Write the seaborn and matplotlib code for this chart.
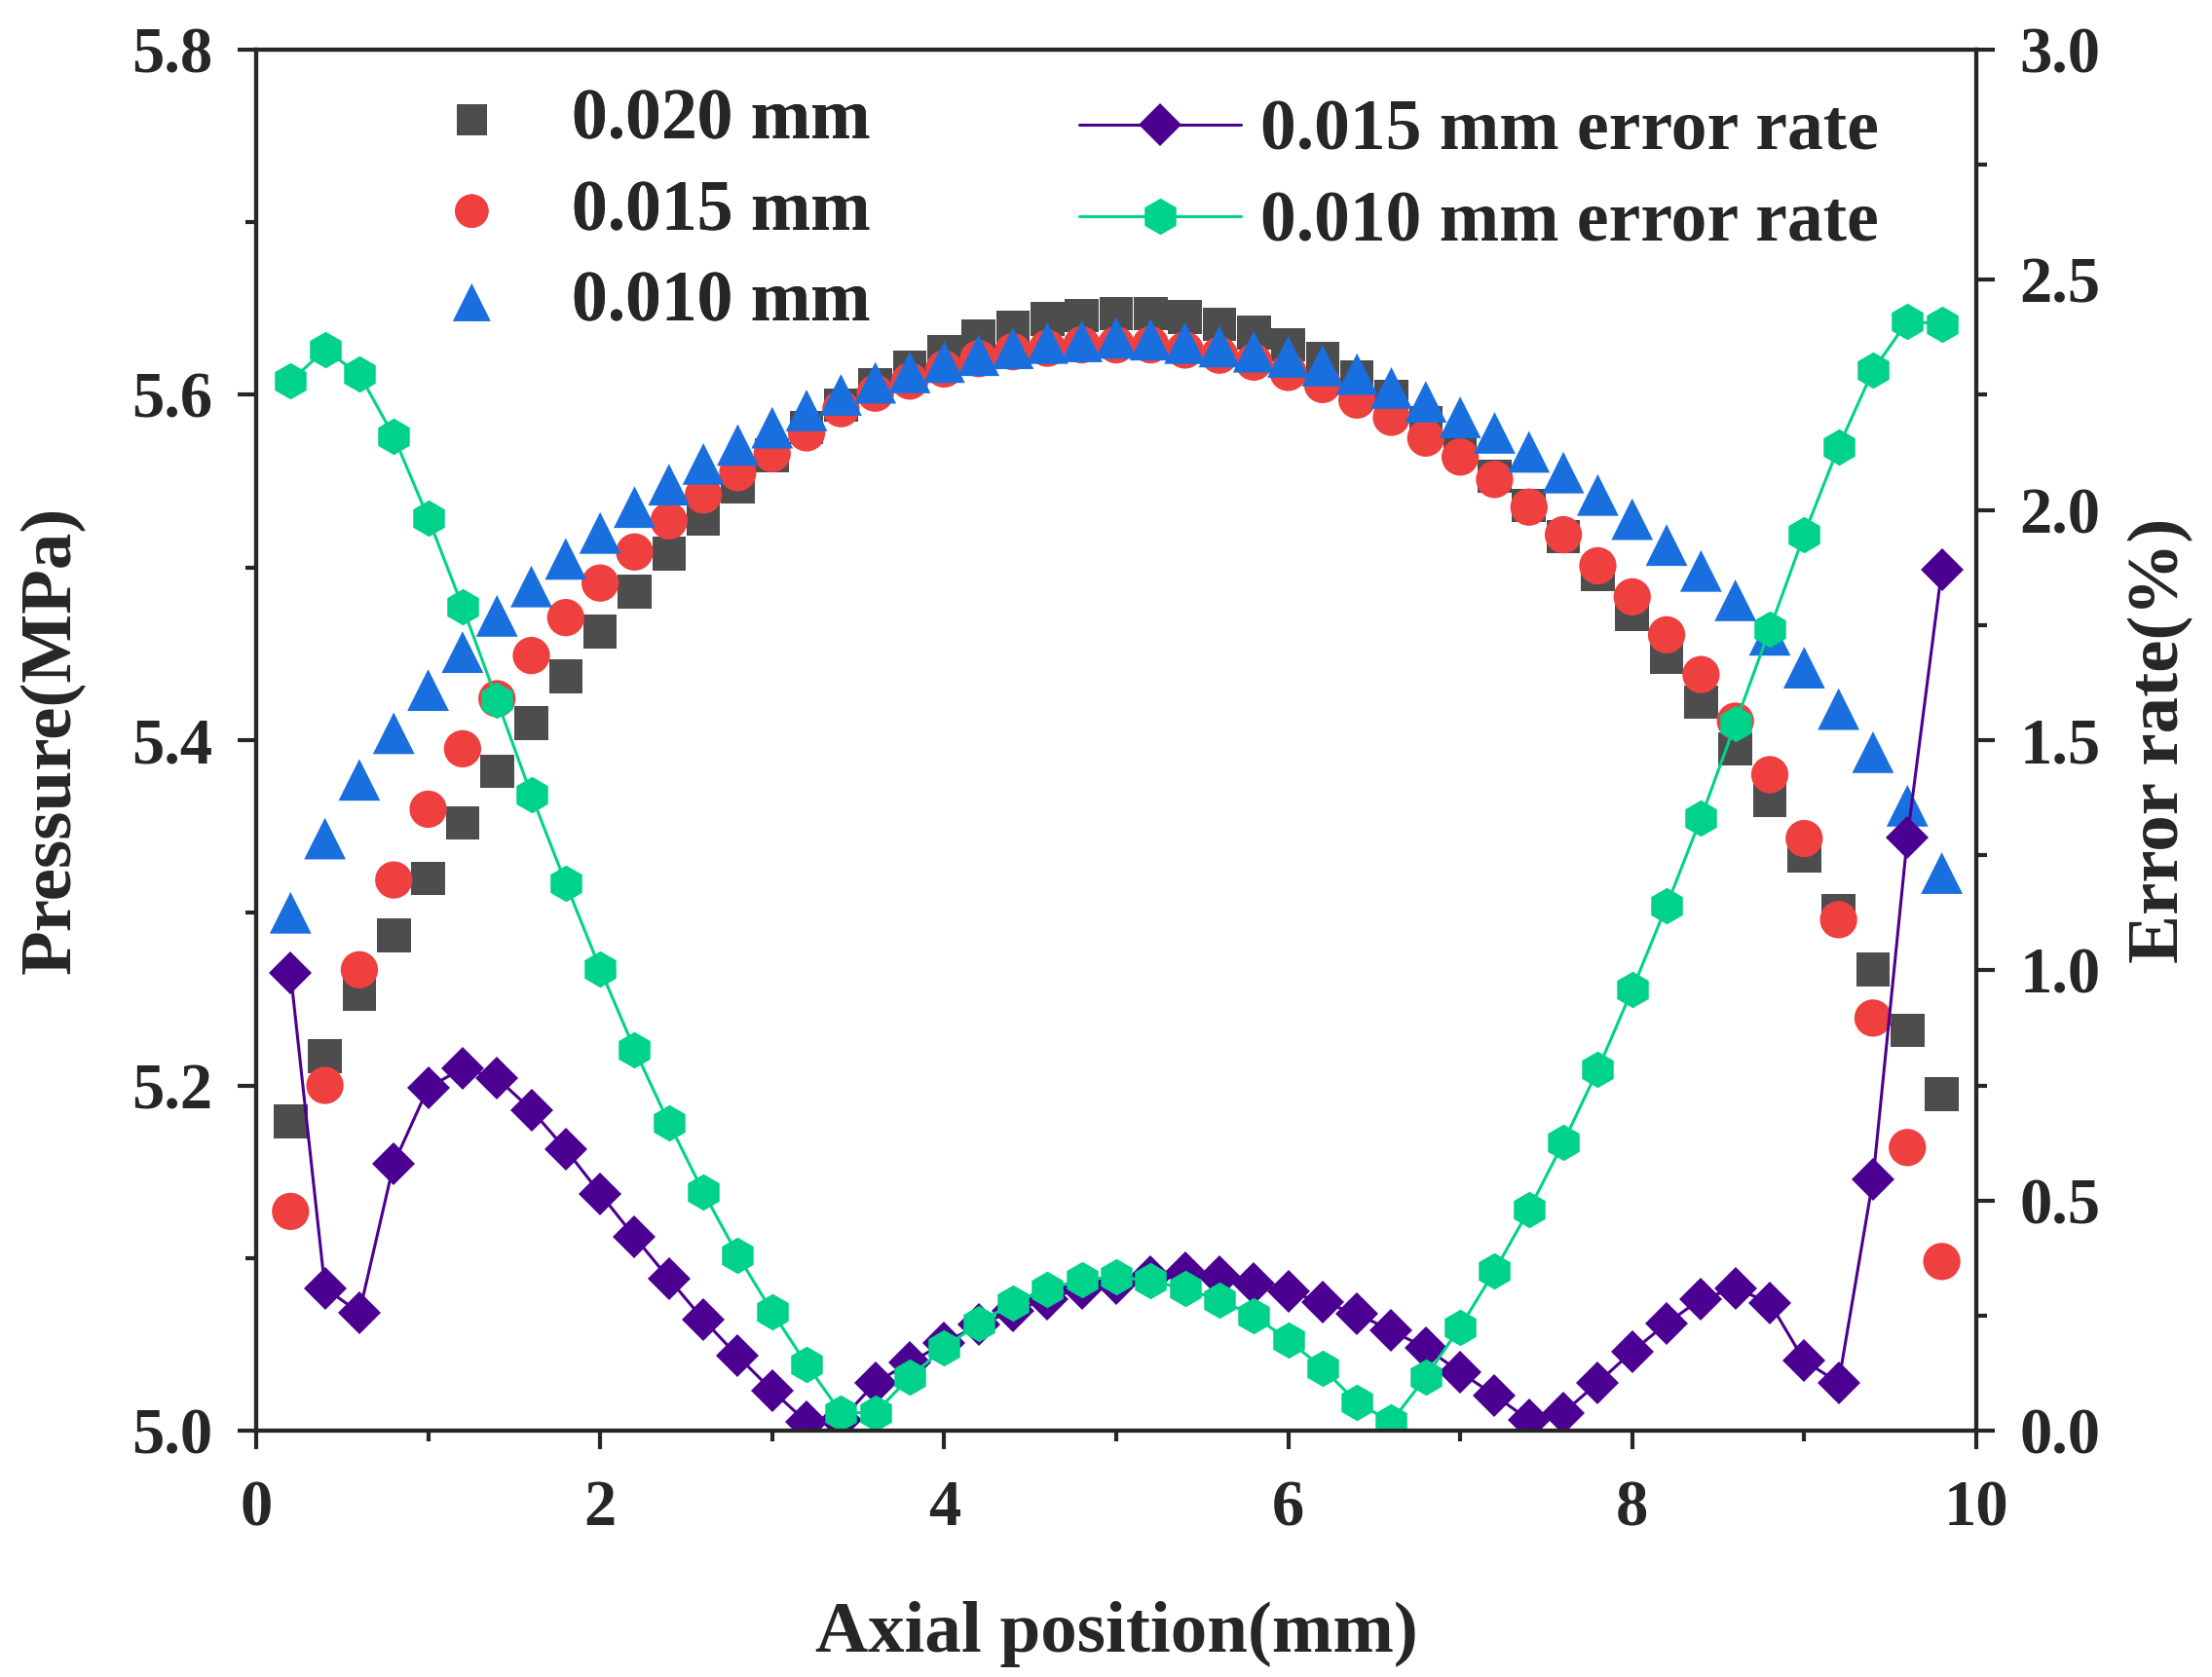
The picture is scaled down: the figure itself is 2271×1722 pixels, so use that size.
import numpy as np
import pandas as pd
import matplotlib
matplotlib.use("Agg")
import matplotlib.pyplot as plt
from matplotlib.ticker import MultipleLocator, FormatStrFormatter
import seaborn as sns

# axial positions (mm)
pos = [0.2, 0.4, 0.6, 0.8, 1.0, 1.2, 1.4, 1.6, 1.8, 2.0,
       2.2, 2.4, 2.6, 2.8, 3.0, 3.2, 3.4, 3.6, 3.8, 4.0,
       4.2, 4.4, 4.6, 4.8, 5.0, 5.2, 5.4, 5.6, 5.8, 6.0,
       6.2, 6.4, 6.6, 6.8, 7.0, 7.2, 7.4, 7.6, 7.8, 8.0,
       8.2, 8.4, 8.6, 8.8, 9.0, 9.2, 9.4, 9.6, 9.8]

# pressure (MPa)
p_020 = [5.179, 5.217, 5.253, 5.287, 5.320, 5.352, 5.382, 5.410, 5.437, 5.463,
         5.486, 5.508, 5.528, 5.547, 5.565, 5.581, 5.594, 5.606, 5.616, 5.625,
         5.634, 5.639, 5.644, 5.646, 5.647, 5.647, 5.645, 5.641, 5.636, 5.629,
         5.621, 5.610, 5.599, 5.584, 5.569, 5.553, 5.536, 5.518, 5.496, 5.473,
         5.448, 5.422, 5.395, 5.365, 5.333, 5.301, 5.267, 5.232, 5.195]
p_015 = [5.127, 5.200, 5.267, 5.319, 5.360, 5.395, 5.424, 5.449, 5.471, 5.491,
         5.509, 5.527, 5.542, 5.555, 5.566, 5.578, 5.592, 5.601, 5.608, 5.615,
         5.621, 5.625, 5.627, 5.629, 5.629, 5.629, 5.626, 5.623, 5.619, 5.613,
         5.606, 5.597, 5.587, 5.575, 5.564, 5.551, 5.535, 5.519, 5.501, 5.483,
         5.461, 5.438, 5.411, 5.380, 5.343, 5.296, 5.239, 5.164, 5.098]
p_010 = [5.300, 5.343, 5.377, 5.404, 5.429, 5.451, 5.472, 5.489, 5.505, 5.520,
         5.535, 5.548, 5.560, 5.571, 5.581, 5.591, 5.600, 5.607, 5.613, 5.619,
         5.623, 5.627, 5.630, 5.631, 5.633, 5.632, 5.630, 5.628, 5.625, 5.622,
         5.617, 5.612, 5.604, 5.596, 5.587, 5.578, 5.567, 5.555, 5.542, 5.528,
         5.513, 5.498, 5.481, 5.461, 5.442, 5.418, 5.393, 5.362, 5.323]

# error rate (%)
err_015 = [0.994, 0.310, 0.256, 0.580, 0.745, 0.787, 0.766, 0.697, 0.611, 0.515,
           0.421, 0.330, 0.241, 0.162, 0.087, 0.019, 0.023, 0.104, 0.148, 0.190,
           0.230, 0.260, 0.286, 0.310, 0.320, 0.334, 0.343, 0.334, 0.319, 0.302,
           0.279, 0.254, 0.217, 0.180, 0.127, 0.077, 0.023, 0.039, 0.104, 0.172,
           0.233, 0.286, 0.309, 0.278, 0.152, 0.104, 0.545, 1.289, 1.870]
err_010 = [2.280, 2.348, 2.295, 2.160, 1.983, 1.790, 1.587, 1.381, 1.189, 1.003,
           0.828, 0.668, 0.518, 0.381, 0.258, 0.144, 0.039, 0.039, 0.116, 0.180,
           0.233, 0.278, 0.307, 0.328, 0.334, 0.326, 0.308, 0.284, 0.250, 0.197,
           0.136, 0.061, 0.019, 0.117, 0.225, 0.347, 0.480, 0.626, 0.784, 0.958,
           1.140, 1.331, 1.536, 1.741, 1.947, 2.137, 2.303, 2.410, 2.404]

sns.set_style("ticks")
plt.rcParams['font.family'] = ['Liberation Serif', 'DejaVu Serif']
plt.rcParams['font.weight'] = 'bold'
plt.rcParams['axes.labelweight'] = 'bold'

fig = plt.figure(figsize=(22.71, 17.22), dpi=100)
ax = fig.add_axes([0.1158, 0.1469, 0.8934 - 0.1158, 0.9704 - 0.1469])
ax2 = ax.twinx()

df = pd.DataFrame({"pos": pos, "p020": p_020, "p015": p_015, "p010": p_010,
                   "e015": err_015, "e010": err_010})

sns.scatterplot(data=df, x="pos", y="p020", ax=ax, marker="s", s=620,
                color="#4D4D4D", edgecolor="none", label="0.020 mm")
sns.scatterplot(data=df, x="pos", y="p015", ax=ax, marker="o", s=760,
                color="#EF4040", edgecolor="none", label="0.015 mm")
sns.scatterplot(data=df, x="pos", y="p010", ax=ax, marker="^", s=950,
                color="#1A6FDF", edgecolor="none", label="0.010 mm")

sns.lineplot(data=df, x="pos", y="e015", ax=ax2, color="#4B0092", lw=2.2,
             marker="D", markersize=22, markeredgewidth=0,
             label="0.015 mm error rate")
sns.lineplot(data=df, x="pos", y="e010", ax=ax2, color="#00D28C", lw=2.2,
             marker="h", markersize=27, markeredgewidth=0,
             label="0.010 mm error rate")

ax.set_xlim(0, 10)
ax.set_ylim(5.0, 5.8)
ax2.set_ylim(0.0, 3.0)

ax.xaxis.set_major_locator(MultipleLocator(2))
ax.xaxis.set_minor_locator(MultipleLocator(1))
ax.yaxis.set_major_locator(MultipleLocator(0.2))
ax.yaxis.set_minor_locator(MultipleLocator(0.1))
ax.yaxis.set_major_formatter(FormatStrFormatter('%.1f'))
ax2.yaxis.set_major_locator(MultipleLocator(0.5))
ax2.yaxis.set_minor_locator(MultipleLocator(0.25))
ax2.yaxis.set_major_formatter(FormatStrFormatter('%.1f'))

for a in (ax, ax2):
    a.tick_params(which="major", direction="out", length=14, width=3,
                  labelsize=48, pad=18)
    a.tick_params(which="minor", direction="out", length=8, width=3)
    for sp in a.spines.values():
        sp.set_linewidth(3)
        sp.set_visible(True)
ax.tick_params(axis="x", which="major", pad=22)
ax.tick_params(top=False, right=False, which="both")
ax2.tick_params(left=False, top=False, which="both")

ax.set_xlabel("Axial position(mm)", fontsize=54, labelpad=46)
ax.set_ylabel("Pressure(MPa)", fontsize=54, labelpad=34)
ax2.set_ylabel("Error rate(%)", fontsize=54, labelpad=20)

leg1 = ax.legend(loc="upper left", bbox_to_anchor=(0.067, 1.019), frameon=False,
                 fontsize=53, handlelength=1.0, handletextpad=0.9,
                 labelspacing=0.35, markerscale=0.9)
leg2 = ax2.legend(loc="upper left", bbox_to_anchor=(0.441, 1.011), frameon=False,
                  fontsize=53, handlelength=2.26, handletextpad=0.26,
                  labelspacing=0.35)
ax.add_artist(leg1)

fig.savefig("out.png", dpi=100)
